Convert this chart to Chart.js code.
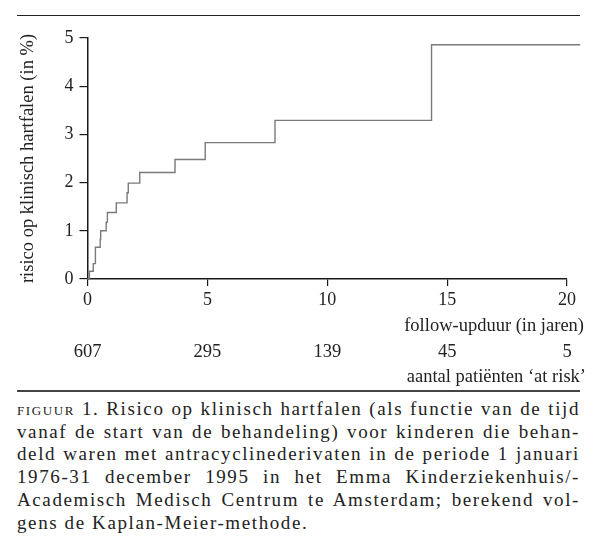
<!DOCTYPE html>
<html>
<head>
<meta charset="utf-8">
<script src="https://cdn.jsdelivr.net/npm/chart.js@4"></script>
<style>
    body { margin: 0; background: #fff; width: 600px; height: 549px; position: relative; overflow: hidden; }
    #topo { position: absolute; left: 17px; top: 15px; width: 563px; height: 0; border-top: 1.5px solid #222; }
    #grafico { position: absolute; left: 0; top: 0; width: 600px; height: 390px; }
    #base { position: absolute; left: 17px; top: 390px; width: 563px; height: 0; border-top: 2px solid #444; }
    #legenda { position: absolute; left: 17px; top: 398px; width: 563px; font-family: "Liberation Serif", serif; font-size: 19px; line-height: 22.7px; letter-spacing: 1.6px; color: #222; }
    #legenda div { text-align: justify; text-align-last: justify; white-space: nowrap; }
    #legenda div.ultima { text-align-last: left; }
    .kk { font-variant: small-caps; letter-spacing: 1.6px; }
</style>
</head>
<body>
<div id="topo"></div>
<div id="grafico"><canvas id="kmChart"></canvas></div>
<div id="base"></div>
<div id="legenda">
    <div><span class="kk">figuur 1.</span> Risico op klinisch hartfalen (als functie van de tijd</div>
    <div>vanaf de start van de behandeling) voor kinderen die behan-</div>
    <div>deld waren met antracyclinederivaten in de periode 1 januari</div>
    <div>1976-31 december 1995 in het Emma Kinderziekenhuis/-</div>
    <div>Academisch Medisch Centrum te Amsterdam; berekend vol-</div>
    <div class="ultima">gens de Kaplan-Meier-methode.</div>
</div>

<script>
// tijdstippen (jaren) waarop de curve stijgt, en het risico (%) vanaf dat moment
var jaren = [0, 0.08, 0.24, 0.33, 0.53, 0.55, 0.78, 0.83, 1.2, 1.65, 1.70, 2.18, 3.65, 4.91, 7.82, 14.35, 20.55];
var risico = [0, 0.16, 0.32, 0.66, 0.82, 1.0, 1.18, 1.38, 1.58, 1.79, 1.99, 2.21, 2.48, 2.83, 3.29, 4.86, 4.86];

// aantal patienten 'at risk' onder de x-as
var jarenAtRisk = [0, 5, 10, 15, 20];
var aantalAtRisk = [607, 295, 139, 45, 5];

var xTicks = [0, 5, 10, 15, 20];
var yTicks = [0, 1, 2, 3, 4, 5];

var lettertype = '"Liberation Serif", serif';

// regels die te breed zijn iets krapper zetten
var regels = document.querySelectorAll('#legenda div');
for (var r = 0; r < regels.length; r++) {
    var ls = 1.6;
    while (regels[r].scrollWidth > 563 && ls > -1) {
        ls -= 0.1;
        regels[r].style.letterSpacing = ls + 'px';
    }
}

var punten = [];
for (var i = 0; i < jaren.length; i++) {
    punten.push({ x: jaren[i], y: risico[i] });
}

// tekst onder de as: titel, aantallen at risk en hun label
var atRiskPlugin = {
    id: 'atRisk',
    afterDraw: function (chart) {
        var ctx = chart.ctx;
        var x = chart.scales.x;
        ctx.save();
        ctx.fillStyle = '#222';
        ctx.font = '18.5px ' + lettertype;
        ctx.textBaseline = 'middle';

        ctx.textAlign = 'right';
        ctx.fillText('follow-upduur (in jaren)', 584, 326);

        ctx.textAlign = 'center';
        for (var i = 0; i < jarenAtRisk.length; i++) {
            ctx.fillText(String(aantalAtRisk[i]), x.getPixelForValue(jarenAtRisk[i]), 352);
        }

        ctx.textAlign = 'right';
        ctx.fillText('aantal patiënten \u2018at risk\u2019', 586, 377);
        ctx.restore();
    }
};

const config = {
    type: 'line',
    data: {
        datasets: [{
            label: 'risico',
            data: punten,
            stepped: 'before',
            borderColor: '#7a7a7a',
            borderWidth: 1.4,
            pointRadius: 0,
            fill: false,
            clip: false
        }]
    },
    options: {
        responsive: true,
        maintainAspectRatio: false,
        animation: false,
        layout: {
            padding: { top: 38, right: 33, bottom: 0, left: 0 }
        },
        plugins: {
            legend: { display: false },
            tooltip: { enabled: false }
        },
        scales: {
            x: {
                type: 'linear',
                min: 0,
                max: 20,
                afterFit: function (scale) { scale.height = 111; },
                afterBuildTicks: function (scale) {
                    scale.ticks = xTicks.map(function (v) { return { value: v }; });
                },
                border: { display: true, color: '#1a1a1a', width: 1.5 },
                grid: { display: true, drawOnChartArea: false, tickLength: 7, color: '#1a1a1a', lineWidth: 1.2 },
                ticks: { font: { family: lettertype, size: 18 }, color: '#222', padding: 3, maxRotation: 0 }
            },
            y: {
                type: 'linear',
                min: 0,
                max: 5,
                afterFit: function (scale) { scale.width = 87.5; },
                afterBuildTicks: function (scale) {
                    scale.ticks = yTicks.map(function (v) { return { value: v }; });
                },
                border: { display: true, color: '#1a1a1a', width: 1.5 },
                grid: { display: true, drawOnChartArea: false, tickLength: 8, color: '#1a1a1a', lineWidth: 1.2 },
                ticks: { font: { family: lettertype, size: 18 }, color: '#222', padding: 6 },
                title: {
                    display: true,
                    text: 'risico op klinisch hartfalen (in %)',
                    font: { family: lettertype, size: 18.5 },
                    color: '#222',
                    padding: { top: 17, bottom: 0 }
                }
            }
        }
    },
    plugins: [atRiskPlugin]
};

var kmChart = new Chart(document.getElementById('kmChart'), config);
</script>
</body>
</html>
